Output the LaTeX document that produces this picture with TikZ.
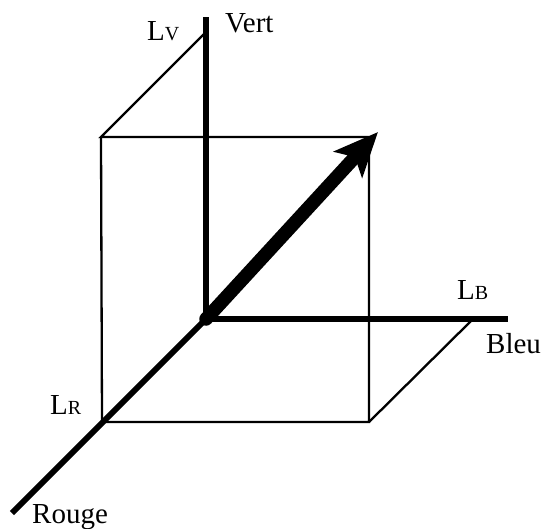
\documentclass[tikz,border=0pt]{standalone}
\usepackage{fontspec}
\setmainfont{Liberation Serif}
\usetikzlibrary{arrows.meta}
\begin{document}
\begin{tikzpicture}[x=1pt,y=-1pt,
  axis/.style={line width=5.8pt},
  thin/.style={line width=2.3pt, line join=miter},
  lbl/.style={inner sep=0pt, anchor=base west, font=\fontsize{29}{29}\selectfont}]
\newcommand\smallcap[1]{{\fontsize{20}{20}\selectfont #1}}
\useasboundingbox (0,0) rectangle (549,528);
% key points
\coordinate (O) at (206,319);
\coordinate (Vtop) at (206,17);
\coordinate (Bend) at (508,319);
\coordinate (Rend) at (12,513);
\coordinate (LV) at (206,32);
\coordinate (LB) at (473,319);
\coordinate (LR) at (102,422);
\coordinate (FTL) at (101,137);
\coordinate (FTR) at (369,137);
\coordinate (FBR) at (369,422);
\coordinate (Tip) at (378,132);
% thin box lines
\draw[thin] (LV) -- (FTL) -- (FTR);
\draw[thin] (FTL) -- (LR) -- (FBR) -- (FTR);
\draw[thin] (FBR) -- (LB);
% axes
\draw[axis] (O) -- (Vtop);
\draw[axis] (O) -- (Bend);
\draw[axis] (O) -- (Rend);
% vector
\draw[line width=13.5pt, line cap=round, -{Stealth[length=44pt,width=38pt,inset=10pt]}] (O) -- (Tip);
% labels
\node[lbl] (tV) at (147,40) {L\smallcap{V}};
\node[lbl] (tVert) at (225,32) {Vert};
\node[lbl] (tB) at (457,299) {L\smallcap{B}};
\node[lbl] (tBleu) at (486,353) {Bleu};
\node[lbl] (tR) at (50,414) {L\smallcap{R}};
\node[lbl] (tRouge) at (32,523) {Rouge};
\end{tikzpicture}
\end{document}
